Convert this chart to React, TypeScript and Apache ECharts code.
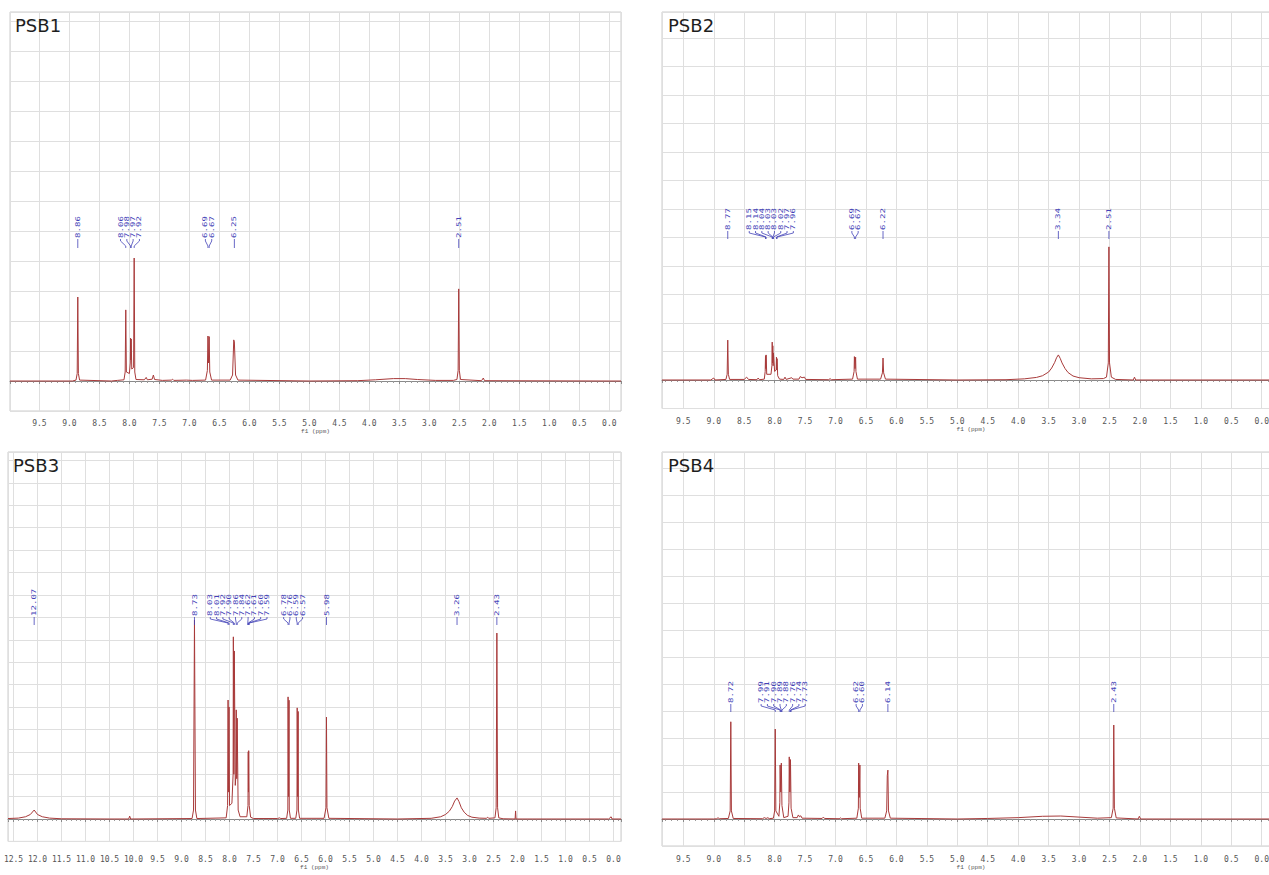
import { useEffect, useRef } from 'react';
import * as echarts from 'echarts';

// ---------- data (ppm, intensity in arbitrary units) ----------
const PANEL_TITLES = ['PSB1', 'PSB2', 'PSB3', 'PSB4'];
const X_AXIS_NAME = 'f1 (ppm)';

const PSB1_SPECTRUM: [number, number][] = [
  [9.99, 0], [8.95, 0], [8.89, 0.03], [8.87, 0.25], [8.86, 2.8], [8.85, 0.25], [8.83, 0.03],
  [8.3, 0], [8.2, 0.02], [8.09, 0.04], [8.07, 0.3], [8.06, 2.37], [8.05, 0.3], [8.0, 0.25],
  [7.985, 0.6], [7.98, 1.43], [7.975, 0.7], [7.97, 1.4], [7.96, 0.4], [7.93, 0.45], [7.92, 4.1],
  [7.91, 0.3], [7.89, 0.05], [7.75, 0.04], [7.72, 0.12], [7.7, 0.04], [7.62, 0.06], [7.6, 0.2],
  [7.58, 0.05], [7.45, 0.02], [7.3, 0.03], [7.28, 0.06], [7.26, 0.02], [7.05, 0.03], [6.95, 0.02],
  [6.73, 0.03], [6.7, 0.35], [6.69, 1.5], [6.68, 0.6], [6.67, 1.48], [6.66, 0.3], [6.63, 0.03],
  [6.32, 0.03], [6.28, 0.2], [6.26, 1.37], [6.25, 1.3], [6.23, 0.2], [6.19, 0.03],
  [5.0, 0], [4.2, 0.01], [3.9, 0.04], [3.6, 0.08], [3.4, 0.08], [3.2, 0.05], [2.9, 0.02], [2.6, 0.02],
  [2.54, 0.05], [2.52, 0.35], [2.51, 3.07], [2.5, 0.35], [2.48, 0.05],
  [2.13, 0.01], [2.1, 0.1], [2.08, 0.01], [0.0, 0], [-0.195, 0],
];

const PSB2_SPECTRUM: [number, number][] = [
  [9.85, 0], [9.05, 0], [9.0, 0.07], [8.98, 0],
  [8.8, 0.02], [8.78, 0.2], [8.77, 1.4], [8.76, 0.2], [8.74, 0.02],
  [8.5, 0.02], [8.46, 0.1], [8.43, 0.02], [8.29, 0.01], [8.27, 0.07], [8.25, 0.01],
  [8.17, 0.03], [8.155, 0.3], [8.15, 0.85], [8.145, 0.4], [8.14, 0.88], [8.13, 0.2], [8.06, 0.2],
  [8.045, 0.5], [8.04, 1.33], [8.035, 0.6], [8.03, 1.2], [8.025, 0.5], [8.02, 0.95], [8.0, 0.3],
  [7.975, 0.35], [7.97, 0.8], [7.965, 0.35], [7.96, 0.75], [7.95, 0.15], [7.92, 0.03],
  [7.85, 0.02], [7.83, 0.1], [7.81, 0.02], [7.72, 0.08], [7.7, 0.03], [7.6, 0.03], [7.58, 0.12],
  [7.55, 0.08], [7.51, 0.1], [7.49, 0.02], [7.11, 0.01], [7.09, 0.05], [7.07, 0.01],
  [6.72, 0.03], [6.695, 0.3], [6.69, 0.82], [6.68, 0.4], [6.67, 0.8], [6.665, 0.3], [6.64, 0.03],
  [6.26, 0.03], [6.23, 0.25], [6.22, 0.77], [6.21, 0.25], [6.18, 0.03],
  [5.0, 0], [4.2, 0.01], [3.9, 0.04], [3.7, 0.09], [3.6, 0.15], [3.5, 0.28], [3.45, 0.42], [3.4, 0.62],
  [3.37, 0.78], [3.34, 0.88], [3.31, 0.76], [3.28, 0.6], [3.23, 0.4], [3.18, 0.26], [3.1, 0.14],
  [3.0, 0.08], [2.8, 0.04], [2.6, 0.05], [2.55, 0.1], [2.52, 0.6], [2.51, 4.67], [2.5, 0.6],
  [2.47, 0.1], [2.4, 0.02], [2.11, 0], [2.09, 0.1], [2.07, 0], [0.0, 0], [-0.3, 0],
];

const PSB3_SPECTRUM: [number, number][] = [
  [12.615, 0.02], [12.4, 0.04], [12.25, 0.1], [12.15, 0.2], [12.07, 0.4], [12.0, 0.2], [11.9, 0.1],
  [11.75, 0.04], [11.5, 0.01], [10.5, 0], [10.1, 0], [10.08, 0.13], [10.06, 0],
  [8.78, 0.02], [8.75, 0.4], [8.73, 8.88], [8.71, 0.4], [8.68, 0.02],
  [8.07, 0.05], [8.04, 0.6], [8.03, 5.31], [8.02, 1.2], [8.01, 5.0], [8.0, 0.6], [7.95, 0.7],
  [7.925, 2.0], [7.92, 8.13], [7.91, 2.0], [7.9, 7.5], [7.88, 1.5], [7.865, 2.0], [7.86, 4.87],
  [7.85, 1.8], [7.84, 4.5], [7.82, 0.4], [7.78, 0.1], [7.64, 0.1], [7.615, 0.6], [7.61, 3.0],
  [7.605, 1.2], [7.6, 3.05], [7.59, 0.6], [7.56, 0.08], [7.5, 0.02],
  [7.0, 0.02], [6.96, 0.05], [6.93, 0.02],
  [6.81, 0.03], [6.785, 0.4], [6.78, 5.45], [6.77, 1.0], [6.76, 5.3], [6.755, 0.4], [6.73, 0.03],
  [6.62, 0.03], [6.595, 0.4], [6.59, 4.96], [6.58, 1.0], [6.57, 4.8], [6.565, 0.4], [6.54, 0.03],
  [6.03, 0.03], [5.99, 0.5], [5.98, 4.55], [5.97, 0.5], [5.93, 0.03],
  [4.5, 0], [3.8, 0.03], [3.6, 0.1], [3.5, 0.2], [3.42, 0.35], [3.36, 0.55], [3.31, 0.8], [3.26, 0.94],
  [3.22, 0.78], [3.17, 0.5], [3.11, 0.3], [3.04, 0.16], [2.95, 0.08], [2.8, 0.04], [2.65, 0.03],
  [2.62, 0.08], [2.6, 0.03], [2.47, 0.05], [2.445, 0.5], [2.43, 8.3], [2.415, 0.5], [2.39, 0.05],
  [2.3, 0.01], [2.05, 0], [2.04, 0.36], [2.03, 0], [0.1, 0], [0.05, 0.1], [0.03, 0], [-0.156, 0],
];

const PSB4_SPECTRUM: [number, number][] = [
  [9.85, 0], [9.0, 0], [8.95, 0.01], [8.93, 0.05], [8.91, 0.01],
  [8.76, 0.02], [8.73, 0.3], [8.72, 3.6], [8.71, 0.3], [8.68, 0.02],
  [8.2, 0.01], [8.17, 0.05], [8.14, 0.02], [8.11, 0.05], [8.09, 0.01],
  [8.02, 0.03], [8.0, 0.3], [7.99, 3.33], [7.98, 0.3], [7.93, 0.1], [7.915, 0.6], [7.91, 2.0],
  [7.9, 1.0], [7.89, 2.07], [7.88, 0.5], [7.85, 0.05],
  [7.78, 0.1], [7.765, 0.6], [7.76, 2.3], [7.75, 1.0], [7.74, 2.2], [7.73, 0.4], [7.7, 0.05],
  [7.63, 0.05], [7.61, 0.15], [7.59, 0.08], [7.57, 0.12], [7.55, 0.03], [7.22, 0.02], [7.2, 0.07],
  [7.18, 0.02], [6.94, 0.01], [6.92, 0.04], [6.9, 0.01],
  [6.65, 0.03], [6.625, 0.4], [6.62, 2.07], [6.61, 0.8], [6.6, 2.0], [6.595, 0.4], [6.57, 0.03],
  [6.19, 0.03], [6.16, 0.3], [6.15, 1.6], [6.14, 1.81], [6.13, 0.3], [6.1, 0.03],
  [5.0, 0], [4.5, 0.02], [4.0, 0.05], [3.6, 0.1], [3.3, 0.11], [3.0, 0.07], [2.7, 0.03],
  [2.47, 0.05], [2.44, 0.4], [2.43, 3.48], [2.42, 0.4], [2.39, 0.04],
  [2.03, 0], [2.01, 0.1], [1.99, 0], [0.0, 0], [-0.3, 0],
];

// peak-picking labels (ppm), grouped as in the multiplet trees
const PSB1_PEAK_LABELS: number[][] = [[8.86], [8.06, 7.98, 7.97, 7.92], [6.69, 6.67], [6.25], [2.51]];
const PSB2_PEAK_LABELS: number[][] = [
  [8.77], [8.15, 8.14, 8.04, 8.03, 8.03, 8.02, 7.97, 7.96], [6.69, 6.67], [6.22], [3.34], [2.51],
];
const PSB3_PEAK_LABELS: number[][] = [
  [12.07], [8.73], [8.03, 8.01, 7.92, 7.9, 7.86, 7.84, 7.62, 7.61, 7.6, 7.59],
  [6.78, 6.76, 6.59, 6.57], [5.98], [3.26], [2.43],
];
const PSB4_PEAK_LABELS: number[][] = [
  [8.72], [7.99, 7.91, 7.9, 7.89, 7.88, 7.76, 7.74, 7.73], [6.62, 6.6], [6.14], [2.43],
];

const SPECTRA = [PSB1_SPECTRUM, PSB2_SPECTRUM, PSB3_SPECTRUM, PSB4_SPECTRUM];
const PEAK_LABELS = [PSB1_PEAK_LABELS, PSB2_PEAK_LABELS, PSB3_PEAK_LABELS, PSB4_PEAK_LABELS];

// ---------- layout / style ----------
const LAYOUT = [
  { left: 10, top: 12, width: 611, height: 399, xMin: -0.195, xMax: 9.99, yMax: 12.3, offset: 5, margin: 3, nameGap: 12, textBottom: 238, leaderBottom: 248, tLeft: 15, tTop: 16 },
  { left: 662, top: 12, width: 618, height: 396.5, xMin: -0.3, xMax: 9.85, yMax: 12.91, offset: 5, margin: 4, nameGap: 12, textBottom: 230, leaderBottom: 239, tLeft: 668, tTop: 16 },
  { left: 8, top: 452, width: 613, height: 389.4, xMin: -0.156, xMax: 12.615, yMax: 16.38, offset: 8, margin: 6, nameGap: 14, textBottom: 616, leaderBottom: 625, tLeft: 13, tTop: 456 },
  { left: 662, top: 452, width: 618, height: 394, xMin: -0.3, xMax: 9.85, yMax: 13.59, offset: 5, margin: 4, nameGap: 13, textBottom: 703, leaderBottom: 712, tLeft: 668, tTop: 456 },
];

const SPEC_COLOR = '#a83a3a';
const LABEL_BLUE = '#4343b8';
const GRID_COLOR = '#dfdfdf';
const LABEL_SPACING = 6.3;

function makeLabelRenderer(groups: number[][], textBottom: number, leaderBottom: number) {
  return (params: any, api: any) => {
    const g = groups[params.dataIndex];
    const xs = g.map((v) => api.coord([v, 0])[0]);
    const n = g.length;
    const c = (xs[0] + xs[n - 1]) / 2;
    const children: any[] = [];
    g.forEach((v, i) => {
      const lx = n === 1 ? xs[i] : c + (i - (n - 1) / 2) * LABEL_SPACING;
      children.push({
        type: 'text',
        x: lx,
        y: textBottom,
        rotation: Math.PI / 2,
        scaleX: 1.4,
        style: {
          text: v.toFixed(2),
          fill: LABEL_BLUE,
          fontSize: 6.5,
          fontFamily: 'DejaVu Sans Mono',
          align: 'left',
          verticalAlign: 'middle',
          textAlign: 'left',
          textVerticalAlign: 'middle',
        },
      });
      const pts =
        n === 1
          ? [[lx, textBottom + 1], [lx, leaderBottom]]
          : [[lx, textBottom + 1], [lx, textBottom + 3], [xs[i], leaderBottom - 2], [xs[i], leaderBottom]];
      children.push({
        type: 'polyline',
        shape: { points: pts },
        style: { stroke: LABEL_BLUE, lineWidth: 0.8, fill: null },
      });
    });
    return { type: 'group', children };
  };
}

export default function App() {
  const ref = useRef<HTMLDivElement>(null);

  useEffect(() => {
    if (!ref.current) return;
    const chart = echarts.init(ref.current, undefined, { renderer: 'svg' });

    const grid = LAYOUT.map((L) => ({
      left: L.left,
      top: L.top,
      width: L.width,
      height: L.height,
      show: true,
      borderColor: '#cccccc',
      borderWidth: 1,
      backgroundColor: '#ffffff',
      containLabel: false,
      outerBoundsMode: 'none',
    }));

    const xAxis = LAYOUT.map((L, i) => ({
      type: 'value',
      gridIndex: i,
      inverse: true,
      min: L.xMin,
      max: L.xMax,
      minInterval: 0.5,
      maxInterval: 0.5,
      offset: L.offset,
      name: X_AXIS_NAME,
      nameLocation: 'middle',
      nameGap: L.nameGap,
      nameTextStyle: { fontSize: 6, color: '#555', fontFamily: 'Liberation Mono' },
      axisLine: { show: true, lineStyle: { color: '#8a8a8a', width: 1 } },
      axisTick: { show: true, length: 3, lineStyle: { color: '#8a8a8a' } },
      minorTick: { show: true, splitNumber: 5, length: 2, lineStyle: { color: '#9a9a9a' } },
      axisLabel: {
        show: true,
        margin: L.margin,
        fontSize: 8,
        color: '#555555',
        fontFamily: 'DejaVu Sans Mono',
        showMinLabel: true,
        showMaxLabel: true,
        formatter: (v: number) => (Math.abs(v * 2 - Math.round(v * 2)) < 1e-6 ? Math.abs(v).toFixed(1) : ''),
      },
      splitLine: { show: true, lineStyle: { color: GRID_COLOR, width: 1 } },
      minorSplitLine: { show: false },
    }));

    const yAxis = LAYOUT.map((L, i) => ({
      type: 'value',
      gridIndex: i,
      min: -1,
      max: L.yMax,
      interval: 1,
      axisLine: { show: false },
      axisTick: { show: false },
      axisLabel: { show: false },
      splitLine: { show: true, lineStyle: { color: GRID_COLOR, width: 1 } },
    }));

    const series: any[] = [];
    SPECTRA.forEach((spec, i) => {
      series.push({
        type: 'line',
        xAxisIndex: i,
        yAxisIndex: i,
        data: spec,
        showSymbol: false,
        symbol: 'none',
        silent: true,
        clip: true,
        lineStyle: { color: SPEC_COLOR, width: 1 },
        z: 3,
      });
      const L = LAYOUT[i];
      series.push({
        type: 'custom',
        xAxisIndex: i,
        yAxisIndex: i,
        silent: true,
        clip: false,
        z: 4,
        encode: { x: 0, y: 1 },
        data: PEAK_LABELS[i].map((g) => [g[0], 0]),
        renderItem: makeLabelRenderer(PEAK_LABELS[i], L.textBottom, L.leaderBottom),
      });
    });

    const title = PANEL_TITLES.map((t, i) => ({
      text: t,
      left: LAYOUT[i].tLeft,
      top: LAYOUT[i].tTop,
      padding: 0,
      textStyle: { fontSize: 18, fontWeight: 'normal', color: '#1e1e1e', fontFamily: 'DejaVu Sans' },
    }));

    chart.setOption({
      animation: false,
      backgroundColor: '#ffffff',
      title,
      grid,
      xAxis,
      yAxis,
      series,
    });

    return () => chart.dispose();
  }, []);

  return (
    <div
      ref={ref}
      style={{ position: 'fixed', left: 0, top: 0, width: 1269, height: 875, background: '#fff' }}
    />
  );
}
